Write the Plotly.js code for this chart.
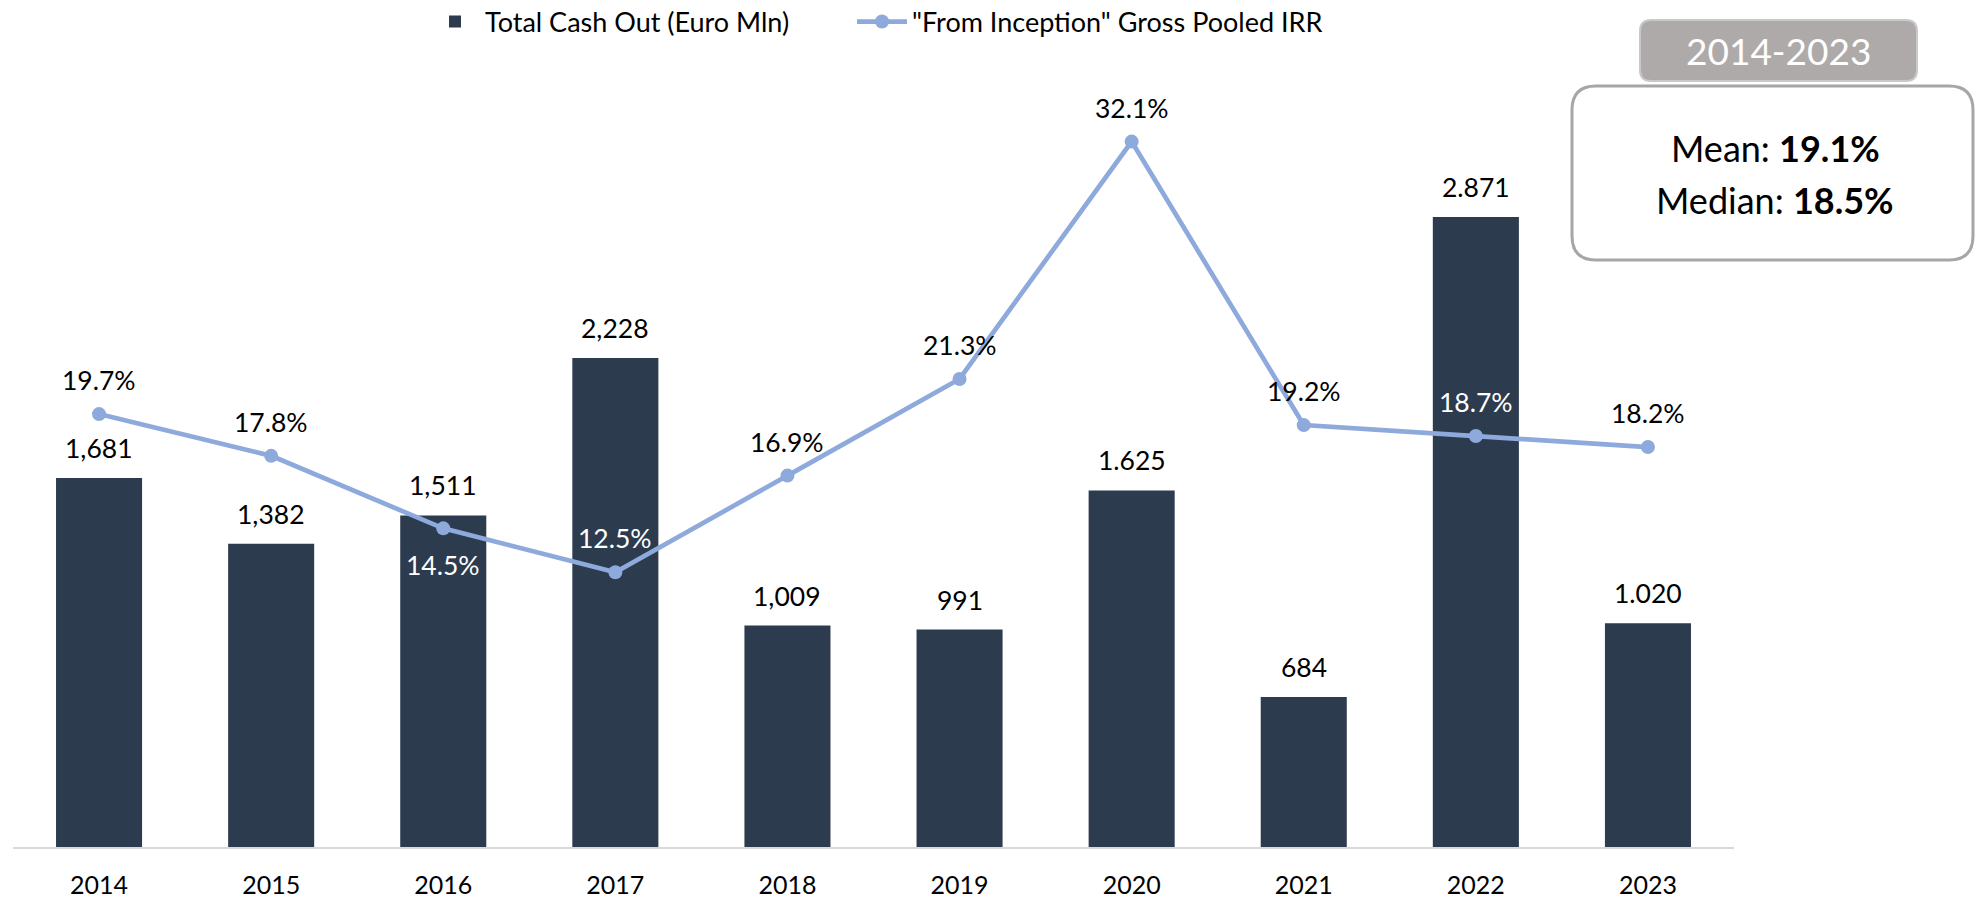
<!DOCTYPE html>
<html>
<head>
<meta charset="utf-8">
<script src="https://cdn.plot.ly/plotly-3.0.1.min.js"></script>
<style>html,body{margin:0;padding:0;background:#fff;}#chart{width:1988px;height:901px;}</style>
</head>
<body>
<div id="chart"></div>
<script>
// ---- data ----
const years = ["2014","2015","2016","2017","2018","2019","2020","2021","2022","2023"];
const cashOut = [1681, 1382, 1511, 2228, 1009, 991, 1625, 684, 2871, 1020];
const cashOutLabels = ["1,681","1,382","1,511","2,228","1,009","991","1.625","684","2.871","1.020"];
const irr = [19.7, 17.8, 14.5, 12.5, 16.9, 21.3, 32.1, 19.2, 18.7, 18.2];
const irrLabelBelow = [false,false,true,false,false,false,false,false,false,false];
const irrLabelOnBar = [false,false,true,true,false,false,false,false,true,false];
const periodLabel = "2014-2023";
const meanIrr = "19.1%";
const medianIrr = "18.5%";

// ---- layout geometry (pixels) ----
const W = 1988, H = 901;
const L = 13, PW = 1721, T = 57, PH = 790;
const px = x => (x - L) / PW;
const py = y => (T + PH - y) / PH;
function roundRect(x0, y0, x1, y1, r) {
  const X = v => px(v).toFixed(5), Y = v => py(v).toFixed(5);
  return `M${X(x0+r)},${Y(y0)} L${X(x1-r)},${Y(y0)} Q${X(x1)},${Y(y0)} ${X(x1)},${Y(y0+r)} ` +
         `L${X(x1)},${Y(y1-r)} Q${X(x1)},${Y(y1)} ${X(x1-r)},${Y(y1)} L${X(x0+r)},${Y(y1)} ` +
         `Q${X(x0)},${Y(y1)} ${X(x0)},${Y(y1-r)} L${X(x0)},${Y(y0+r)} Q${X(x0)},${Y(y0)} ${X(x0+r)},${Y(y0)} Z`;
}

const FONT = "Lato, 'Open Sans', sans-serif";
const barColor = "#2C3B4E";
const lineColor = "#8EA9DB";

const traces = [
  {
    type: "bar", x: years, y: cashOut, name: "Total Cash Out (Euro Mln)",
    marker: {color: barColor}, yaxis: "y", hoverinfo: "x+y", legendwidth: 362
  },
  {
    type: "scatter", mode: "lines+markers", x: years, y: irr, yaxis: "y2",
    name: "\"From Inception\" Gross Pooled IRR", legendwidth: 470,
    line: {color: lineColor, width: 4.7}, marker: {color: lineColor, size: 14}
  }
];

const annotations = [];
years.forEach((yr, i) => {
  annotations.push({
    x: i, y: cashOut[i], xref: "x", yref: "y", text: cashOutLabels[i],
    showarrow: false, yshift: 30, yanchor: "middle",
    font: {family: FONT, size: 26.5, color: "#000"}
  });
  annotations.push({
    x: i, y: irr[i], xref: "x", yref: "y2", text: irr[i].toFixed(1) + "%",
    showarrow: false, yshift: irrLabelBelow[i] ? -37 : 34, yanchor: "middle",
    font: {family: FONT, size: 26.5, color: irrLabelOnBar[i] ? "#fff" : "#000"}
  });
});
annotations.push({
  xref: "paper", yref: "paper", x: px(1778), y: py(51), text: periodLabel,
  showarrow: false, xanchor: "center", yanchor: "middle",
  font: {family: FONT, size: 37, color: "#fff"}
});
annotations.push({
  xref: "paper", yref: "paper", x: px(1775), y: py(148), text: "Mean: <b>" + meanIrr + "</b>",
  showarrow: false, xanchor: "center", yanchor: "middle",
  font: {family: FONT, size: 36, color: "#000"}
});
annotations.push({
  xref: "paper", yref: "paper", x: px(1775), y: py(200), text: "Median: <b>" + medianIrr + "</b>",
  showarrow: false, xanchor: "center", yanchor: "middle",
  font: {family: FONT, size: 36, color: "#000"}
});

const shapes = [
  {type: "path", xref: "paper", yref: "paper", path: roundRect(1640, 20, 1917, 81, 11),
   fillcolor: "#AEAAAA", line: {color: "#C9C9C9", width: 2}, layer: "below"},
  {type: "path", xref: "paper", yref: "paper", path: roundRect(1572, 86, 1973, 260, 24),
   fillcolor: "#FFFFFF", line: {color: "#A6A6A6", width: 3}, layer: "below"}
];

const layout = {
  width: W, height: H,
  margin: {l: L, r: W - L - PW, t: T, b: H - T - PH, pad: 0, autoexpand: false},
  paper_bgcolor: "#fff", plot_bgcolor: "rgba(0,0,0,0)",
  font: {family: FONT, size: 24, color: "#000"},
  bargap: 0.5,
  showlegend: true,
  legend: {
    orientation: "h", x: px(425), y: py(22), xanchor: "left", yanchor: "middle",
    font: {family: FONT, size: 27, color: "#000"},
    itemwidth: 50, tracegroupgap: 0, bgcolor: "rgba(0,0,0,0)"
  },
  xaxis: {
    type: "category", categoryorder: "array", categoryarray: years,
    range: [-0.5, years.length - 0.5], autorange: false,
    showgrid: false, zeroline: false,
    showline: true, linecolor: "#D9D9D9", linewidth: 2,
    ticks: "", ticklabelstandoff: 15,
    tickfont: {family: FONT, size: 25, color: "#000"}
  },
  yaxis: {range: [0, 3600], visible: false, showgrid: false, zeroline: false, fixedrange: true},
  yaxis2: {range: [0, 35.95], overlaying: "y", side: "right", visible: false, showgrid: false, zeroline: false},
  annotations: annotations,
  shapes: shapes
};

Plotly.newPlot("chart", traces, layout, {displayModeBar: false, staticPlot: true});
</script>
</body>
</html>
